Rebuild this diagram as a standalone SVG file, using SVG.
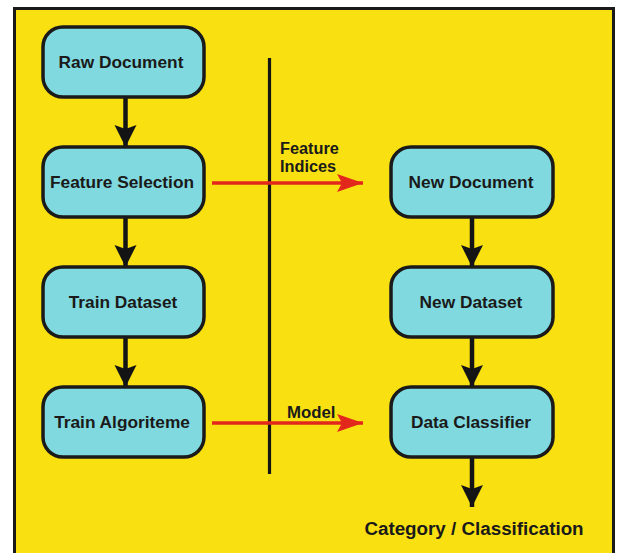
<svg xmlns="http://www.w3.org/2000/svg" width="619" height="553" viewBox="0 0 619 553">
<style>
.node rect{fill:#80d9df;stroke:#1a1a1a;stroke-width:3.5}
.node text{font-family:"Liberation Sans",Arial,sans-serif;font-weight:bold;font-size:17.3px;fill:#1a1a1a;text-anchor:middle}
.lbl{font-family:"Liberation Sans",Arial,sans-serif;font-weight:bold;font-size:16.8px;fill:#1a1a1a}
.blk{stroke:#141414;stroke-width:4.5;fill:none;marker-end:url(#ab)}
.red{stroke:#e2271d;stroke-width:3.5;fill:none;marker-end:url(#ar)}
</style>
<defs>
<marker id="ab" markerUnits="userSpaceOnUse" markerWidth="24" markerHeight="24" viewBox="0 0 24 24" refX="22" refY="12" orient="auto">
<path d="M0,1 L22,12 L0,23 L4,12 Z" fill="#141414"/>
</marker>
<marker id="ar" markerUnits="userSpaceOnUse" markerWidth="26" markerHeight="20" viewBox="0 0 26 20" refX="26" refY="10" orient="auto">
<path d="M0,1 L26,10 L0,19 L5,10 Z" fill="#e2271d"/>
</marker>
</defs>
<rect x="0" y="0" width="619" height="553" fill="#ffffff"/>
<rect x="14.5" y="8.5" width="599" height="560" fill="#f9e010" stroke="#1a1a1a" stroke-width="3"/>
<g id="connectors">
<line x1="269.5" y1="58" x2="269.5" y2="474" stroke="#141414" stroke-width="3.2"/>
<line class="blk" x1="125.5" y1="97" x2="125.5" y2="147"/>
<line class="blk" x1="125.5" y1="217" x2="125.5" y2="267"/>
<line class="blk" x1="125.5" y1="337" x2="125.5" y2="387"/>
<line class="blk" x1="472" y1="217" x2="472" y2="267"/>
<line class="blk" x1="472" y1="337" x2="472" y2="387"/>
<line class="blk" x1="472" y1="457" x2="472" y2="507"/>
<line class="red" x1="212" y1="183" x2="363" y2="183"/>
<line class="red" x1="212" y1="423" x2="363" y2="423"/>
<text class="lbl" x="280" y="172" style="font-size:16.3px"><tspan x="280" y="154">Feature</tspan><tspan x="280" y="172">Indices</tspan></text>
<text class="lbl" x="287" y="418">Model</text>
</g>
<g id="raw" class="node"><rect x="43" y="27" width="161" height="70" rx="20"/><text x="121" y="68">Raw Document</text></g>
<g id="feat" class="node"><rect x="43" y="147" width="161" height="70" rx="20"/><text x="122" y="188">Feature Selection</text></g>
<g id="train" class="node"><rect x="43" y="267" width="161" height="70" rx="20"/><text x="123" y="308">Train Dataset</text></g>
<g id="algo" class="node"><rect x="43" y="387" width="161" height="70" rx="20"/><text x="122" y="428">Train Algoriteme</text></g>
<g id="newdoc" class="node"><rect x="391" y="147" width="162" height="70" rx="20"/><text x="471" y="188">New Document</text></g>
<g id="newds" class="node"><rect x="391" y="267" width="162" height="70" rx="20"/><text x="471" y="308">New Dataset</text></g>
<g id="clf" class="node"><rect x="391" y="387" width="162" height="70" rx="20"/><text x="471" y="428">Data Classifier</text></g>
<g id="cat"><text class="lbl" x="474" y="535" text-anchor="middle" style="font-size:18.8px">Category / Classification</text></g>
</svg>
